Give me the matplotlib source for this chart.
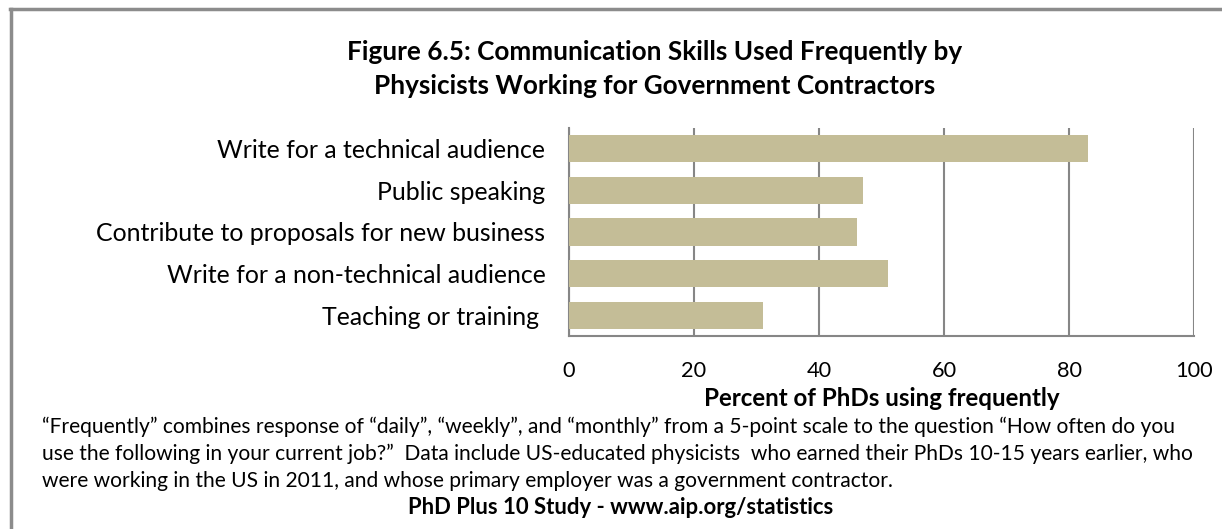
import matplotlib
matplotlib.use("Agg")
import matplotlib.pyplot as plt
from matplotlib.lines import Line2D

plt.rcParams['font.family'] = ['Lato', 'DejaVu Sans']

categories = ["Write for a technical audience", "Public speaking",
              "Contribute to proposals for new business",
              "Write for a non-technical audience", "Teaching or training "]
values = [83, 47, 46, 51, 31]
xticks = [0, 20, 40, 60, 80, 100]

title = "Figure 6.5: Communication Skills Used Frequently by\nPhysicists Working for Government Contractors"
xlabel = "Percent of PhDs using frequently"
footnote = ("\u201cFrequently\u201d combines response of \u201cdaily\u201d, \u201cweekly\u201d, and \u201cmonthly\u201d from a 5-point scale to the question \u201cHow often do you\n"
            "use the following in your current job?\u201d  Data include US-educated physicists  who earned their PhDs 10-15 years earlier, who\n"
            "were working in the US in 2011, and whose primary employer was a government contractor.")
source = "PhD Plus 10 Study - www.aip.org/statistics"

W, H = 1222, 529
fig = plt.figure(figsize=(W / 100, H / 100), dpi=100)
fig.patch.set_facecolor("white")

gray = "#8C8C8C"
# frame lines (top and left)
fig.add_artist(Line2D([10 / W, 1.0], [1 - 8.5 / H, 1 - 8.5 / H], transform=fig.transFigure, color=gray, lw=2.5))
fig.add_artist(Line2D([11 / W, 11 / W], [0, 1 - 8.5 / H], transform=fig.transFigure, color=gray, lw=2.5))

ax = fig.add_axes([569 / W, 1 - 336 / H, 625 / W, 208 / H])
ypos = list(range(len(categories)))
ax.barh(ypos, values, height=0.65, color="#C4BD97", zorder=3)
ax.set_ylim(len(categories) - 0.5, -0.5)
ax.set_xlim(0, 100)
ax.set_xticks(xticks)
ax.set_xticklabels([str(t) for t in xticks], fontsize=15.7)
ax.set_yticks(ypos)
ax.set_yticklabels(categories, fontsize=17.9)
ax.tick_params(axis="x", length=0, pad=18)
ax.tick_params(axis="y", length=0, pad=17)
ax.grid(axis="x", color="#868686", lw=1.5, zorder=0)
for s in ["top", "right"]:
    ax.spines[s].set_visible(False)
for s in ["left", "bottom"]:
    ax.spines[s].set_color("#868686")
    ax.spines[s].set_linewidth(1.5)
ax.set_xlabel(xlabel, fontsize=17.4, fontweight="bold", labelpad=4)

fig.text(655 / W, 1 - 69 / H, title, ha="center", va="center", fontsize=18.8,
         fontweight="bold", linespacing=1.52)
fig.text(42 / W, 1 - 454 / H, footnote, ha="left", va="center", fontsize=15.1,
         linespacing=1.44)
fig.text(621 / W, 1 - 507 / H, source, ha="center", va="center", fontsize=15.9,
         fontweight="bold")

fig.savefig("out.png", dpi=100, facecolor="white")
